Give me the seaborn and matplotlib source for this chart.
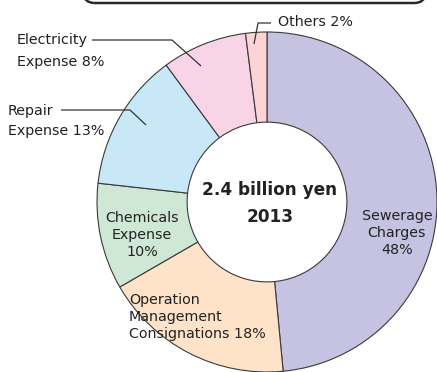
import matplotlib
matplotlib.use("Agg")
import matplotlib.pyplot as plt
import seaborn as sns
from matplotlib.patches import FancyBboxPatch

categories = ["Sewerage Charges", "Operation Management Consignations", "Chemicals Expense",
              "Repair Expense", "Electricity Expense", "Others"]
values = [48, 18, 10, 13, 8, 2]
colors = ["#c6c3e2", "#fee3c9", "#cfe8d5", "#c8e8f8", "#f9d4e7", "#fcd4d6"]
center_title = "2.4 billion yen"
center_year = "2013"

sns.set_theme(style="white")
plt.rcParams['font.family'] = ['DejaVu Sans']

W, H = 437, 372
fig = plt.figure(figsize=(W / 100, H / 100), dpi=100)
fig.patch.set_facecolor("white")

cx, cy, R = 267, 202, 170
ax = fig.add_axes([(cx - R) / W, (H - cy - R) / H, 2 * R / W, 2 * R / H])

wedges, _ = ax.pie(values, colors=colors, startangle=90, counterclock=False, radius=1,
                   wedgeprops=dict(width=0.53, edgecolor="#3a3a3a", linewidth=0.8))
ax.set_xlim(-1, 1)
ax.set_ylim(-1, 1)
ax.axis("off")
for w in wedges:
    w.set_clip_on(False)


def P(px, py):
    return ((px - cx) / R, (cy - py) / R)


tc = "#222222"
fs = 10.3
ls = 1.28
# center text
ax.text(*P(270, 190), center_title, ha="center", va="center", fontsize=12.2,
        fontweight="bold", color=tc)
ax.text(*P(270, 217), center_year, ha="center", va="center", fontsize=12.2,
        fontweight="bold", color=tc)

# inside labels
ax.text(*P(397, 233), "Sewerage\nCharges\n48%", ha="center", va="center",
        fontsize=fs, color=tc, linespacing=ls)
ax.text(*P(142, 235), "Chemicals\nExpense\n10%", ha="center", va="center",
        fontsize=fs, color=tc, linespacing=ls)
ax.text(*P(129, 317), "Operation\nManagement\nConsignations 18%", ha="left", va="center",
        fontsize=fs, color=tc, linespacing=ls)

# outside labels
ax.text(*P(278, 22), "Others 2%", ha="left", va="center", fontsize=fs, color=tc)
ax.text(*P(17, 40), "Electricity", ha="left", va="center", fontsize=fs, color=tc)
ax.text(*P(17, 62), "Expense 8%", ha="left", va="center", fontsize=fs, color=tc)
ax.text(*P(8, 111), "Repair", ha="left", va="center", fontsize=fs, color=tc)
ax.text(*P(8, 131), "Expense 13%", ha="left", va="center", fontsize=fs, color=tc)

lc = "#333333"
for pts in [[(254, 44), (258, 23), (271, 23)],
            [(92, 40), (172, 40), (201, 66)],
            [(61, 110), (130, 110), (146, 125)]]:
    xs, ys = zip(*[P(*p) for p in pts])
    ax.plot(xs, ys, color=lc, linewidth=0.9, clip_on=False, solid_capstyle="butt")

# top rounded box (mostly off canvas)
box = FancyBboxPatch((84 / W, 1 - 3 / H), (425 - 84) / W, 40 / H,
                     boxstyle="round,pad=0,rounding_size=0.025",
                     transform=fig.transFigure, facecolor="white",
                     edgecolor="#2a2a2a", linewidth=1.8)
fig.patches.append(box)

fig.savefig("out.png", dpi=100, facecolor="white")
